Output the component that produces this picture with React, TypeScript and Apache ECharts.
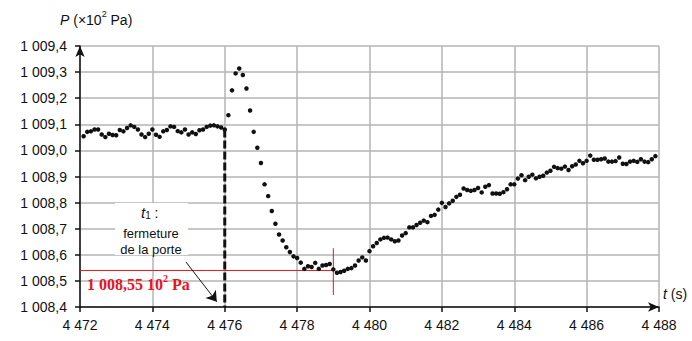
import React, { useEffect, useRef } from "react";
import * as echarts from "echarts";

// Sampling of the recorded pressure (s)
const T0 = 4472.1;
const DT = 0.1;

// Pressure readings (×10² Pa), one every DT seconds starting at T0
const pressure: number[] = [
  1009.054, 1009.071, 1009.073, 1009.080, 1009.080, 1009.061, 1009.051, 1009.064, 1009.059, 1009.058,
  1009.078, 1009.073, 1009.086, 1009.096, 1009.090, 1009.080, 1009.061, 1009.051, 1009.064, 1009.080,
  1009.060, 1009.052, 1009.073, 1009.078, 1009.092, 1009.090, 1009.074, 1009.069, 1009.080, 1009.061,
  1009.069, 1009.063, 1009.077, 1009.080, 1009.090, 1009.095, 1009.096, 1009.092, 1009.088,
  1009.080,
  1009.135, 1009.230, 1009.295, 1009.314, 1009.289, 1009.237, 1009.153, 1009.071, 1009.010, 1008.952, 1008.870,
  1008.825, 1008.768, 1008.719, 1008.678, 1008.655, 1008.629, 1008.611, 1008.594, 1008.588, 1008.570,
  1008.546, 1008.556, 1008.553, 1008.569, 1008.546, 1008.559, 1008.561, 1008.565, 1008.544, 1008.531,
  1008.534, 1008.539, 1008.546, 1008.549, 1008.559, 1008.578, 1008.590, 1008.578, 1008.614, 1008.633,
  1008.645, 1008.659, 1008.665, 1008.666,
  1008.659, 1008.652, 1008.655, 1008.674, 1008.683, 1008.705, 1008.705, 1008.714, 1008.723, 1008.731,
  1008.725, 1008.749, 1008.753, 1008.773, 1008.799, 1008.783, 1008.797, 1008.807, 1008.822, 1008.830,
  1008.854, 1008.848, 1008.845, 1008.848, 1008.856, 1008.839, 1008.861, 1008.867, 1008.835, 1008.835,
  1008.834, 1008.840, 1008.851, 1008.870, 1008.870, 1008.892,
  1008.905, 1008.886, 1008.899, 1008.907, 1008.893, 1008.899, 1008.903, 1008.915, 1008.922, 1008.937,
  1008.932, 1008.930, 1008.938, 1008.925, 1008.939, 1008.946, 1008.960, 1008.951, 1008.960, 1008.980,
  1008.964, 1008.964, 1008.966, 1008.969, 1008.957, 1008.957, 1008.959, 1008.973, 1008.949, 1008.948,
  1008.957, 1008.960, 1008.956, 1008.966, 1008.957, 1008.955, 1008.966, 1008.978,
];

// Axis ranges
const X_MIN = 4472;
const X_MAX = 4488;
const X_STEP = 2;
const Y_MIN = 1008.4;
const Y_MAX = 1009.4;
const Y_STEP = 0.1;

// Annotations
const T_CLOSE = 4476; // t1 : fermeture de la porte
const P_CLOSE_TOP = 1009.08;
const T_MIN = 4479;
const P_MIN = 1008.54;
const P_MIN_LABEL = "1 008,55 10";
const RED_V_TOP = 1008.625;
const RED_V_BOTTOM = 1008.446;
const ARROW_FROM: [number, number] = [4474.93, 1008.572];
const ARROW_TO: [number, number] = [4475.78, 1008.42];

const INK = "#111111";
const SANS = "'Liberation Sans', Arial, sans-serif";
const SERIF = "'Liberation Serif', 'Times New Roman', serif";

const fmtX = (v: number) => {
  const s = String(Math.round(v));
  return s.slice(0, s.length - 3) + " " + s.slice(-3);
};
const fmtY = (v: number) => {
  const [i, d] = v.toFixed(1).split(".");
  return i.slice(0, i.length - 3) + " " + i.slice(-3) + "," + d;
};

export default function App() {
  const ref = useRef<HTMLDivElement>(null);
  useEffect(() => {
    if (!ref.current) return;
    const chart = echarts.init(ref.current, undefined, { renderer: "svg" });
    const pts = pressure.map((p, i) => [+(T0 + i * DT).toFixed(1), p]);
    chart.setOption({
      animation: false,
      backgroundColor: "#ffffff",
      grid: { left: 80, right: 33, top: 46, bottom: 34, containLabel: false },
      xAxis: {
        type: "value",
        min: X_MIN,
        max: X_MAX,
        interval: X_STEP,
        axisLine: {
          show: true,
          symbol: ["none", "arrow"],
          symbolSize: [7, 11],
          lineStyle: { color: INK, width: 1.5 },
        },
        axisTick: { show: true, length: 5, lineStyle: { color: INK, width: 1.5 } },
        axisLabel: { formatter: fmtX, color: INK, fontSize: 14, fontFamily: SANS, margin: 11 },
        splitLine: { show: true, lineStyle: { color: "#b5b5b5", width: 1.5 } },
      },
      yAxis: {
        type: "value",
        min: Y_MIN,
        max: Y_MAX,
        interval: Y_STEP,
        axisLine: {
          show: true,
          symbol: ["none", "arrow"],
          symbolSize: [7, 11],
          lineStyle: { color: INK, width: 1.5 },
        },
        axisTick: { show: true, length: 5, lineStyle: { color: INK, width: 1.5 } },
        axisLabel: { formatter: fmtY, color: INK, fontSize: 14, fontFamily: SANS, margin: 13 },
        splitLine: { show: true, lineStyle: { color: "#b5b5b5", width: 1.5 } },
      },
      series: [
        {
          type: "line",
          data: [
            [X_MIN, P_MIN],
            [T_MIN, P_MIN],
          ],
          symbol: "none",
          lineStyle: { color: "#e8141c", width: 1 },
          z: 3,
          silent: true,
        },
        {
          type: "line",
          data: [
            [T_MIN, RED_V_TOP],
            [T_MIN, RED_V_BOTTOM],
          ],
          symbol: "none",
          lineStyle: { color: "#e8141c", width: 1 },
          z: 3,
          silent: true,
        },
        {
          type: "line",
          data: [
            [T_CLOSE, P_CLOSE_TOP],
            [T_CLOSE, Y_MIN],
          ],
          symbol: "none",
          lineStyle: { color: INK, width: 3, type: [8, 3] },
          z: 4,
          silent: true,
        },
        {
          type: "lines",
          coordinateSystem: "cartesian2d",
          data: [{ coords: [ARROW_FROM, ARROW_TO] }],
          symbol: ["none", "arrow"],
          symbolSize: 10,
          lineStyle: { color: INK, width: 1, opacity: 1 },
          z: 5,
          silent: true,
        },
        {
          type: "scatter",
          data: pts,
          symbol: "circle",
          symbolSize: 4.5,
          itemStyle: { color: INK, opacity: 1 },
          z: 6,
        },
      ],
      graphic: [
        {
          type: "rect",
          z: 10,
          shape: { x: 115, y: 203, width: 73, height: 52 },
          style: { fill: "#ffffff" },
        },
        {
          type: "text",
          z: 11,
          left: 141,
          top: 205,
          style: {
            text: "{i|t}{s|1}{n| :}",
            rich: {
              i: { fontStyle: "italic", fontSize: 15, fontFamily: SANS, fill: INK, verticalAlign: "bottom", lineHeight: 17 },
              s: { fontSize: 10, fontFamily: SANS, fill: INK, verticalAlign: "bottom", lineHeight: 15 },
              n: { fontSize: 14, fontFamily: SANS, fill: INK, verticalAlign: "bottom", lineHeight: 17 },
            },
          },
        },
        {
          type: "text",
          z: 11,
          x: 151,
          y: 233,
          style: { text: "fermeture", fontSize: 13, fontFamily: SANS, fill: INK, align: "center", verticalAlign: "middle" },
        },
        {
          type: "text",
          z: 11,
          x: 151,
          y: 249,
          style: { text: "de la porte", fontSize: 13, fontFamily: SANS, fill: INK, align: "center", verticalAlign: "middle" },
        },
        {
          type: "text",
          z: 11,
          left: 87,
          top: 273,
          style: {
            text: "{a|" + P_MIN_LABEL + "}{s|2}{a| Pa}",
            rich: {
              a: { fontSize: 16, fontWeight: "bold", fontFamily: SERIF, fill: "#e8141c", verticalAlign: "bottom", lineHeight: 19 },
              s: { fontSize: 10, fontWeight: "bold", fontFamily: SERIF, fill: "#e8141c", verticalAlign: "top", lineHeight: 19 },
            },
          },
        },
        {
          type: "text",
          z: 11,
          left: 60,
          top: 9,
          style: {
            text: "{i|P}{a| (×10}{s|2}{a| Pa)}",
            rich: {
              i: { fontStyle: "italic", fontSize: 14, fontFamily: SANS, fill: INK, verticalAlign: "bottom", lineHeight: 18 },
              a: { fontSize: 14, fontFamily: SANS, fill: INK, verticalAlign: "bottom", lineHeight: 18 },
              s: { fontSize: 9, fontFamily: SANS, fill: INK, verticalAlign: "top", lineHeight: 18 },
            },
          },
        },
        {
          type: "text",
          z: 11,
          left: 663,
          top: 287,
          style: {
            text: "{i|t}{a| (s)}",
            rich: {
              i: { fontStyle: "italic", fontSize: 14, fontFamily: SANS, fill: INK },
              a: { fontSize: 14, fontFamily: SANS, fill: INK },
            },
          },
        },
      ],
    });
    return () => chart.dispose();
  }, []);
  return (
    <div
      ref={ref}
      style={{ position: "fixed", left: 0, top: 0, width: 692, height: 341, background: "#fff" }}
    />
  );
}
